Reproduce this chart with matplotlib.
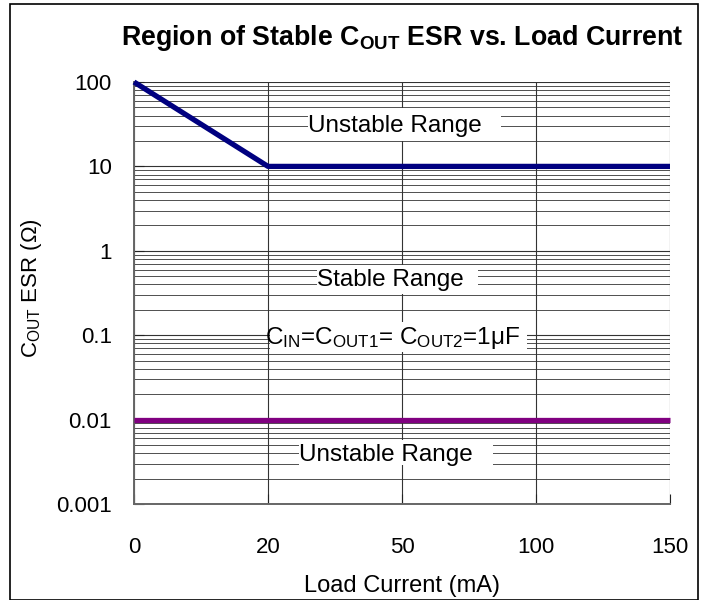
import matplotlib
matplotlib.use("Agg")
import matplotlib.pyplot as plt
from matplotlib.patches import Rectangle
from matplotlib.ticker import LogLocator, NullFormatter

plt.rcParams['font.family'] = ['Liberation Sans', 'DejaVu Sans']
plt.rcParams['mathtext.fontset'] = 'custom'
plt.rcParams['mathtext.rm'] = 'Liberation Sans'
plt.rcParams['mathtext.bf'] = 'Liberation Sans:bold'
plt.rcParams['mathtext.it'] = 'Liberation Sans:italic'

# Data
x_labels = ["0", "20", "50", "100", "150"]
upper_x = ["0", "20", "150"]
upper_esr = [100, 10, 10]
lower_x = ["0", "150"]
lower_esr = [0.01, 0.01]
y_ticks = [0.001, 0.01, 0.1, 1, 10, 100]
y_ticklabels = ["0.001", "0.01", "0.1", "1", "10", "100"]

pos = {lab: i for i, lab in enumerate(x_labels)}

fig = plt.figure(figsize=(7.01, 6.0), dpi=100)
L, R, T, B = 134, 670, 82, 504
ax = fig.add_axes([L/701, 1-B/600, (R-L)/701, (B-T)/600])

ax.plot([pos[v] for v in upper_x], upper_esr, color='#000080', lw=3.8,
        solid_capstyle='butt', zorder=5, clip_on=False)
ax.plot([pos[v] for v in lower_x], lower_esr, color='#800080', lw=3.8,
        solid_capstyle='butt', zorder=5, clip_on=False)

ax.set_yscale('log')
ax.set_ylim(0.001, 100)
ax.set_xlim(0, len(x_labels) - 1)
ax.set_xticks(range(len(x_labels)))
ax.set_xticklabels(x_labels)
ax.set_yticks(y_ticks)
ax.set_yticklabels(y_ticklabels)
ax.yaxis.set_minor_locator(LogLocator(base=10, subs=range(2, 10)))
ax.yaxis.set_minor_formatter(NullFormatter())

ax.grid(True, which='major', axis='both', color='#333333', lw=0.8)
ax.grid(True, which='minor', axis='y', color='#333333', lw=0.6)
ax.set_axisbelow(True)

for s in ['top', 'right']:
    ax.spines[s].set_visible(False)
for s in ['left', 'bottom']:
    ax.spines[s].set_color('#666666')
    ax.spines[s].set_linewidth(1.4)

ax.tick_params(axis='y', which='major', direction='in', length=7, width=0.8,
               labelsize=16, pad=16, colors='#222222', labelcolor='black')
ax.tick_params(axis='y', which='minor', length=0)
ax.tick_params(axis='x', which='major', direction='in', length=7, width=0.8,
               labelsize=16, pad=24, colors='#222222', labelcolor='black')

ax.set_xlabel('Load Current (mA)', fontsize=17, labelpad=12)
ax.set_ylabel(r'C$_{\mathregular{OUT}}$ ESR (Ω)', fontsize=16)
ax.yaxis.set_label_coords((44 - L) / (R - L), (B - 288) / (B - T))

fig.text(402/701, 1-38/600, r'Region of Stable C$_{\mathbf{OUT}}$ ESR vs. Load Current',
         ha='center', va='center', fontsize=19.3, fontweight='bold')

def fx(px):
    return (px - L) / (R - L)

def fy(py):
    return (B - py) / (B - T)

def white_box(x0, y0, x1, y1):
    ax.add_patch(Rectangle((fx(x0), fy(y1)), fx(x1) - fx(x0), fy(y0) - fy(y1),
                           transform=ax.transAxes, facecolor='white',
                           edgecolor='none', zorder=2))

white_box(308, 108, 501, 141)
ax.text(fx(395), fy(126), 'Unstable Range', transform=ax.transAxes,
        ha='center', va='center', fontsize=17.5, zorder=3)

white_box(317, 265, 478, 294)
ax.text(fx(390), fy(280), 'Stable Range', transform=ax.transAxes,
        ha='center', va='center', fontsize=17.5, zorder=3)

white_box(270, 322, 527, 352)
ax.text(fx(393), fy(338),
        r'C$_{\mathregular{IN}}$=C$_{\mathregular{OUT1}}$= C$_{\mathregular{OUT2}}$=1μF',
        transform=ax.transAxes, ha='center', va='center', fontsize=17.5, zorder=3)

white_box(299, 440, 493, 465)
ax.text(fx(386), fy(455), 'Unstable Range', transform=ax.transAxes,
        ha='center', va='center', fontsize=17.5, zorder=3)

fig.patches.append(Rectangle((10/701, 0.0), 688/701, 1-4/600, transform=fig.transFigure,
                             fill=False, edgecolor='black', lw=1.2))

fig.savefig('out.png', dpi=100)
